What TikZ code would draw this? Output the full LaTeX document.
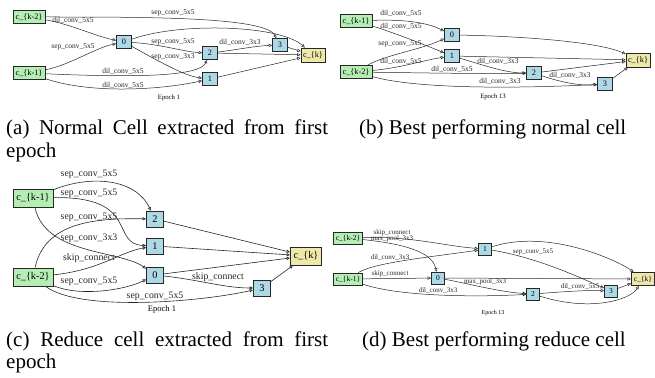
\documentclass[tikz,border=0pt]{standalone}
\usepackage{fontspec}
\setmainfont{Liberation Serif}
\usetikzlibrary{arrows.meta}
\definecolor{seagreen}{HTML}{B4EEB4}
\definecolor{lightblu}{HTML}{ADD8E6}
\definecolor{goldenrod}{HTML}{EEE8AA}

\begin{document}
\begin{tikzpicture}[x=1pt, y=-1pt,
    box/.style={draw=black!85, line width=0.75pt, inner sep=0pt},
    inp/.style={box, fill=seagreen},
    mid/.style={box, fill=lightblu},
    res/.style={box, fill=goldenrod},
    op/.style={inner sep=0pt, text=black!85},
    ep/.style={inner sep=0pt},
    conn/.style={draw=black!85, line width=0.5pt, -{Triangle[open, length=3.4pt, width=3.2pt]}},
    captext/.style={inner sep=0pt, anchor=base west, font=\fontsize{21}{21}\selectfont}]
  \useasboundingbox (0,0) rectangle (655,377);

  % top row: normal cells
  \begin{scope}[box/.append style={font=\fontsize{8.3}{9}\selectfont},
      inp/.append style={minimum width=32pt, minimum height=13pt},
      mid/.append style={minimum width=15pt, minimum height=13pt},
      res/.append style={minimum width=24pt, minimum height=14pt},
      op/.append style={font=\fontsize{7.5}{8}\selectfont},
      ep/.append style={font=\fontsize{6.7}{7}\selectfont}]
    % (a) epoch 1
    \node[inp] (aK2) at (29,17) {c\_\{k-2\}};
    \node[inp] (aK1) at (29,73) {c\_\{k-1\}};
    \node[mid] (a0)  at (124,42) {0};
    \node[mid] (a1)  at (210,79) {1};
    \node[mid] (a2)  at (210,53) {2};
    \node[mid] (a3)  at (280,45) {3};
    \node[res] (aK)  at (313,55) {c\_\{k\}};
    \draw[conn] (aK2) .. controls (70,24) and (95,36) .. (a0) node[op] at (73,20.5) {dil\_conv\_5x5};
    \draw[conn] (aK1) .. controls (70,65) and (95,48) .. (a0) node[op] at (73,47) {sep\_conv\_5x5};
    \draw[conn] (aK1) .. controls (140,78) and (200,76) .. (a2) node[op] at (123,71) {dil\_conv\_5x5};
    \draw[conn] (aK1) .. controls (90,94) and (160,90) .. (a1) node[op] at (123,85) {dil\_conv\_5x5};
    \draw[conn] (aK2) .. controls (150,17) and (265,17) .. (a3) node[op] at (173,13) {sep\_conv\_5x5};
    \draw[conn] (a0) .. controls (180,22) and (280,25) .. (aK);
    \draw[conn] (a0) .. controls (160,44) and (185,52) .. (a2) node[op] at (173,42) {sep\_conv\_5x5};
    \draw[conn] (a0) .. controls (160,62) and (185,76) .. (a1) node[op] at (173,57) {sep\_conv\_3x3};
    \draw[conn] (a2) .. controls (235,50) and (255,46) .. (a3) node[op] at (240,42) {dil\_conv\_3x3};
    \draw[conn] (a2) -- (aK);
    \draw[conn] (a3) -- (aK);
    \draw[conn] (a1) -- (aK);
    \node[ep] (aEp) at (169,98) {Epoch 1};

    % (b) epoch 13
    \node[inp] (bK1) at (356,21) {c\_\{k-1\}};
    \node[inp] (bK2) at (356,72) {c\_\{k-2\}};
    \node[mid] (b0)  at (452,35) {0};
    \node[mid] (b1)  at (452,56) {1};
    \node[mid] (b2)  at (534,73) {2};
    \node[mid] (b3)  at (605,84) {3};
    \node[res] (bK)  at (638,60) {c\_\{k\}};
    \draw[conn] (bK1) .. controls (410,19) and (430,24) .. (b0) node[op] at (401,13) {dil\_conv\_5x5};
    \draw[conn] (bK1) .. controls (395,33) and (425,45) .. (b1) node[op] at (401,26) {dil\_conv\_5x5};
    \draw[conn] (bK2) .. controls (385,55) and (420,50) .. (b0) node[op] at (400,44) {sep\_conv\_5x5};
    \draw[conn] (bK2) .. controls (400,68) and (425,60) .. (b1) node[op] at (401,61) {dil\_conv\_5x5};
    \draw[conn] (bK2) .. controls (430,73) and (490,74) .. (b2) node[op] at (452,69.5) {dil\_conv\_5x5};
    \draw[conn] (bK2) .. controls (420,90) and (530,88) .. (b3) node[op] at (500,81) {dil\_conv\_3x3};
    \draw[conn] (b1) .. controls (480,64) and (505,73) .. (b2) node[op] at (498,61) {dil\_conv\_3x3};
    \draw[conn] (b2) .. controls (560,82) and (580,86) .. (b3) node[op] at (570,75) {dil\_conv\_3x3};
    \draw[conn] (b0) .. controls (520,36) and (600,42) .. (bK);
    \draw[conn] (b1) -- (bK);
    \draw[conn] (b2) -- (bK);
    \draw[conn] (b3) -- (bK);
    \node[ep] (bEp) at (493,97) {Epoch 13};
  \end{scope}

  % (c) reduce cell, epoch 1
  \begin{scope}[box/.append style={font=\fontsize{10.3}{11}\selectfont, line width=0.85pt},
      inp/.append style={minimum width=40pt, minimum height=18pt},
      mid/.append style={minimum width=17pt, minimum height=16pt},
      res/.append style={minimum width=31pt, minimum height=18pt},
      op/.append style={font=\fontsize{9.8}{10}\selectfont},
      ep/.append style={font=\fontsize{8.5}{9}\selectfont},
      conn/.append style={line width=0.6pt}]
    \node[inp] (cK1) at (33,198) {c\_\{k-1\}};
    \node[inp] (cK2) at (33,277) {c\_\{k-2\}};
    \node[mid] (c2)  at (155,219) {2};
    \node[mid] (c1)  at (155,246) {1};
    \node[mid] (c0)  at (155,275) {0};
    \node[mid] (c3)  at (262,288) {3};
    \node[res] (cK)  at (306,256) {c\_\{k\}};
    \draw[conn] (cK1) .. controls (90,175) and (135,178) .. (c2) node[op] at (89,174) {sep\_conv\_5x5};
    \draw[conn] (cK1) .. controls (140,196) and (110,244) .. (c1) node[op] at (89,193) {sep\_conv\_5x5};
    \draw[conn] (cK2) .. controls (45,222) and (95,218) .. (c2) node[op] at (89,217) {sep\_conv\_5x5};
    \draw[conn] (cK1) .. controls (45,255) and (120,250) .. (c0) node[op] at (89,238) {sep\_conv\_3x3};
    \draw[conn] (cK2) .. controls (100,270) and (120,252) .. (c1) node[op] at (89,258) {skip\_connect};
    \draw[conn] (cK2) .. controls (80,297) and (125,290) .. (c0) node[op] at (89,281) {sep\_conv\_5x5};
    \draw[conn] (cK2) .. controls (80,312) and (200,302) .. (c3) node[op] at (155,296) {sep\_conv\_5x5};
    \draw[conn] (c0) .. controls (200,280) and (225,288) .. (c3) node[op] at (218,277) {skip\_connect};
    \draw[conn] (c2) -- (cK);
    \draw[conn] (c1) -- (cK);
    \draw[conn] (c0) -- (cK);
    \draw[conn] (c3) -- (cK);
    \node[ep] (cEp) at (162,309) {Epoch 1};
  \end{scope}

  % (d) reduce cell, epoch 13
  \begin{scope}[box/.append style={font=\fontsize{7.5}{8}\selectfont},
      inp/.append style={minimum width=29pt, minimum height=12pt},
      mid/.append style={minimum width=13pt, minimum height=12pt},
      res/.append style={minimum width=23pt, minimum height=13pt},
      op/.append style={font=\fontsize{7}{7.5}\selectfont},
      ep/.append style={font=\fontsize{6}{6.5}\selectfont}]
    \node[inp] (dK2) at (348,238) {c\_\{k-2\}};
    \node[inp] (dK1) at (348,279) {c\_\{k-1\}};
    \node[mid] (d1)  at (485,249) {1};
    \node[mid] (d0)  at (438,278) {0};
    \node[mid] (d2)  at (533,294) {2};
    \node[mid] (d3)  at (611,291) {3};
    \node[res] (dK)  at (643,279) {c\_\{k\}};
    \draw[conn] (dK2) .. controls (410,236) and (445,246) .. (d1) node[op] at (392,233) {skip\_connect};
    \draw[conn] (dK2) .. controls (405,244) and (432,252) .. (d0) node[op] at (392,239) {max\_pool\_3x3};
    \draw[conn] (dK1) .. controls (375,262) and (440,256) .. (d1) node[op] at (390,258) {dil\_conv\_3x3};
    \draw[conn] (dK1) -- (d0) node[op] at (390,274) {skip\_connect};
    \draw[conn] (dK1) .. controls (400,297) and (480,297) .. (d2) node[op] at (438,291) {dil\_conv\_3x3};
    \draw[conn] (d0) .. controls (470,284) and (500,292) .. (d2) node[op] at (485,282) {max\_pool\_3x3};
    \draw[conn] (d0) -- (dK);
    \draw[conn] (d1) .. controls (550,228) and (620,262) .. (dK);
    \draw[conn] (d1) .. controls (540,258) and (585,280) .. (d3) node[op] at (533,252) {sep\_conv\_5x5};
    \draw[conn] (d2) .. controls (560,292) and (585,290) .. (d3) node[op] at (580,287) {dil\_conv\_5x5};
    \draw[conn] (d2) .. controls (590,312) and (630,300) .. (dK);
    \draw[conn] (d3) -- (dK);
    \node[ep] (dEp) at (493,313) {Epoch 13};
  \end{scope}

  % captions
  \node[captext] (capA) at (6,135) {\makebox[322pt][s]{(a) Normal Cell extracted from first}};
  \node[captext] (capA2) at (6,157) {epoch};
  \node[captext] (capB) at (359,135) {(b) Best performing normal cell};
  \node[captext] (capC) at (6,346) {\makebox[322pt][s]{(c) Reduce cell extracted from first}};
  \node[captext] (capC2) at (6,368) {epoch};
  \node[captext] (capD) at (362,346) {(d) Best performing reduce cell};
\end{tikzpicture}
\end{document}
